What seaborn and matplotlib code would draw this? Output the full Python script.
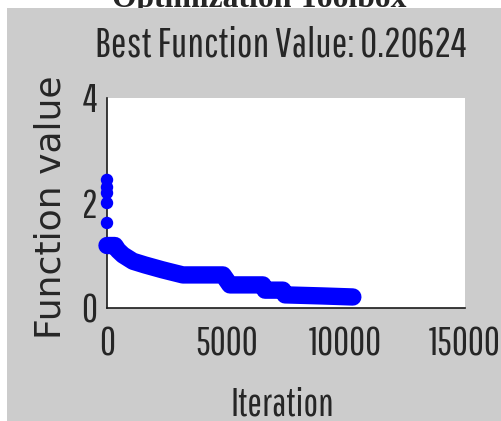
import matplotlib
matplotlib.use("Agg")
import matplotlib.pyplot as plt
import seaborn as sns
import pandas as pd
from matplotlib.patches import Rectangle

# values
start_values = [2.44, 2.3, 2.19, 2.0, 1.62]          # first evaluations, at iteration 0
iterations = [0, 330, 460, 670, 1090, 1590, 2300, 2560, 3180, 4860, 5150,
              6530, 6620, 7370, 7460, 9000, 10300]
best_values = [1.19, 1.19, 1.10, 1.01, 0.89, 0.82, 0.73, 0.70, 0.63, 0.63, 0.44,
               0.44, 0.34, 0.34, 0.25, 0.23, 0.21]
x_ticks = [0, 5000, 10000, 15000]
y_ticks = [0, 2, 4]

df = pd.DataFrame({"Iteration": iterations, "Value": best_values})
df0 = pd.DataFrame({"Iteration": [0] * len(start_values), "Value": start_values})

sns.set_style("white")
narrow = ["Pathway Gothic One", "DejaVu Sans"]

fig = plt.figure(figsize=(5.01, 4.21), dpi=100, facecolor="white")
# grey MATLAB figure panel, with the page heading tucked behind it
fig.patches.append(Rectangle((7 / 501, 0), 1, 1 - 8 / 421, transform=fig.transFigure,
                             facecolor="#cccccc", edgecolor="none", zorder=-1))
fig.text(259 / 501, 1 - 7 / 421, "Optimization Toolbox", family="Liberation Serif",
         weight="bold", fontsize=22.8, ha="center", va="baseline", zorder=-2)

ax = fig.add_axes([107 / 501, 1 - 308 / 421, 358 / 501, 210 / 421])
ax.set_facecolor("white")

sns.lineplot(data=df, x="Iteration", y="Value", ax=ax, color="#0000ff",
             linewidth=12.5, solid_capstyle="round", solid_joinstyle="round",
             clip_on=False, zorder=3)
sns.scatterplot(data=df0, x="Iteration", y="Value", ax=ax, color="#0000ff",
                s=80, marker="o", edgecolor="none", clip_on=False, zorder=3)

ax.set_xlim(0, 15000)
ax.set_ylim(0, 4)
ax.set_xticks(x_ticks)
ax.set_yticks(y_ticks)
for s in ["top", "right"]:
    ax.spines[s].set_visible(False)
for s in ["left", "bottom"]:
    ax.spines[s].set_color("#1a1a1a")
    ax.spines[s].set_linewidth(1.2)
    ax.spines[s].set_zorder(2)

ax.tick_params(direction="in", length=4, width=1, color="#1a1a1a", labelsize=28)
ax.tick_params(axis="x", pad=13)
ax.tick_params(axis="y", pad=7)
for lab in ax.get_xticklabels() + ax.get_yticklabels():
    lab.set_family(narrow)

ax.set_title("Best Function Value: 0.20624", family=narrow, fontsize=30,
             x=0.486, y=1.157, va="baseline")
ax.set_xlabel("Iteration", family=narrow, fontsize=28, va="baseline")
ax.xaxis.set_label_coords(0.49, -0.51)
ax.set_ylabel("Function value", family="DejaVu Sans", fontsize=26, va="center")
ax.yaxis.set_label_coords(-0.159, 0.48)

fig.savefig("out.png", dpi=100, facecolor="white")
